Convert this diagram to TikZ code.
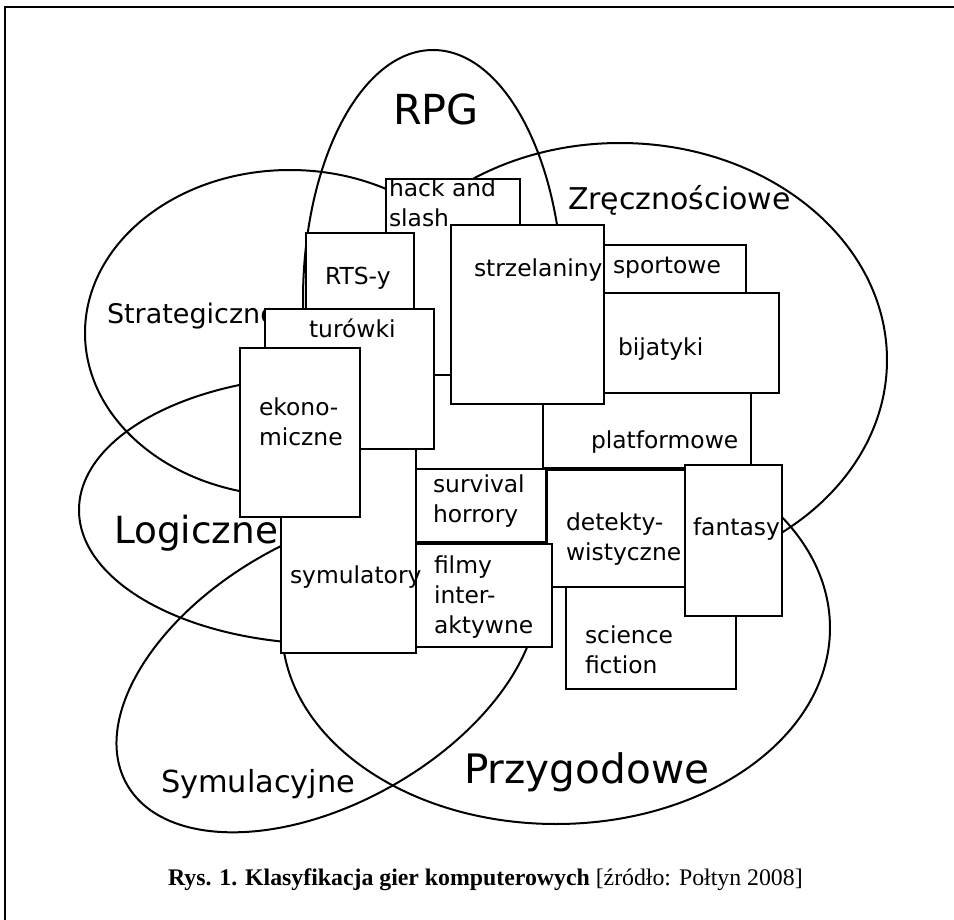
\documentclass[tikz,border=0pt]{standalone}
\usepackage{fontspec}
\setmainfont{DejaVu Sans}
\newfontfamily\captionserif{Liberation Serif}
\begin{document}
\begin{tikzpicture}[x=0.5pt, y=-0.5pt, line width=1pt,
  box/.style={draw, fill=white},
  lbl/.style={anchor=base west, inner sep=0pt, align=left, font=\fontsize{11.7}{15}\selectfont},
  genre/.style={anchor=base west, inner sep=0pt}]
\useasboundingbox (0,0) rectangle (954,920);
\draw[line width=1.2pt] (5,920) -- (5,7) -- (954,7);

\draw (433,300) ellipse [x radius=130, y radius=250];
\draw (290,333) ellipse [x radius=205, y radius=163];
\draw (620,360) ellipse [x radius=267, y radius=217];
\draw (330,510) ellipse [x radius=251, y radius=134];
\draw (556,628) ellipse [x radius=274, y radius=196];
\draw[rotate around={29.5:(327,671)}] (327,671) ellipse [x radius=230, y radius=132];

\node[genre, font=\fontsize{20.7}{24}\selectfont] (rpg) at (392,125) {RPG};
\node[genre, font=\fontsize{15}{18}\selectfont]   (zre) at (567,210) {Zręcznościowe};
\node[genre, font=\fontsize{13.5}{16}\selectfont] (str) at (106,323) {Strategiczne};
\node[genre, font=\fontsize{18.7}{22}\selectfont] (log) at (113,543) {Logiczne};
\node[genre, font=\fontsize{15.2}{18}\selectfont] (sym) at (160,792) {Symulacyjne};
\node[genre, font=\fontsize{20.3}{24}\selectfont] (prz) at (463,783) {Przygodowe};

\fill[white] (414,373) rectangle (545,471);

\draw[box] (386,179) rectangle (520,375);
\node[lbl] (hack) at (388,227) {hack and\\slash};
\draw[box] (306,233) rectangle (414,320);
\node[lbl] (rts) at (324,285) {RTS-y};
\draw[box] (281,430) rectangle (416,653);
\draw[box] (265,309) rectangle (434,449);
\node[lbl] (tur) at (308,337) {turówki};
\draw[box] (240,348) rectangle (360,517);
\node[lbl] (eko) at (258,445) {ekono-\\miczne};
\draw[box] (543,380) rectangle (751,468);
\node[lbl] (pla) at (590,448) {platformowe};
\draw[box] (451,225) rectangle (604,404);
\node[lbl] (strz) at (473,277) {strzelaniny};
\draw[box] (604,245) rectangle (746,300);
\node[lbl] (spo) at (612,273) {sportowe};
\draw[box] (604,293) rectangle (779,393);
\node[lbl] (bij) at (617,355) {bijatyki};
\draw[box] (416,469) rectangle (546,542);
\node[lbl] (sur) at (432,522) {survival\\horrory};
\draw[box] (566,570) rectangle (736,689);
\node[lbl] (sci) at (584,673) {science\\fiction};
\draw[box] (547,470) rectangle (700,587);
\node[lbl] (det) at (565,560) {detekty-\\wistyczne};
\draw[box] (416,544) rectangle (552,647);
\node[lbl] (fil) at (433,633) {filmy\\inter-\\aktywne};
\draw[box] (685,465) rectangle (782,616);
\node[lbl] (fan) at (692,535) {fantasy};
\node[lbl] (symu) at (289,583) {symulatory};

\node[anchor=base west, inner sep=0pt, font=\captionserif\fontsize{11.9}{14}\selectfont] (cap) at (167,885)
  {\textbf{Rys. 1. Klasyfikacja gier komputerowych} [źródło: Połtyn 2008]};
\end{tikzpicture}
\end{document}
